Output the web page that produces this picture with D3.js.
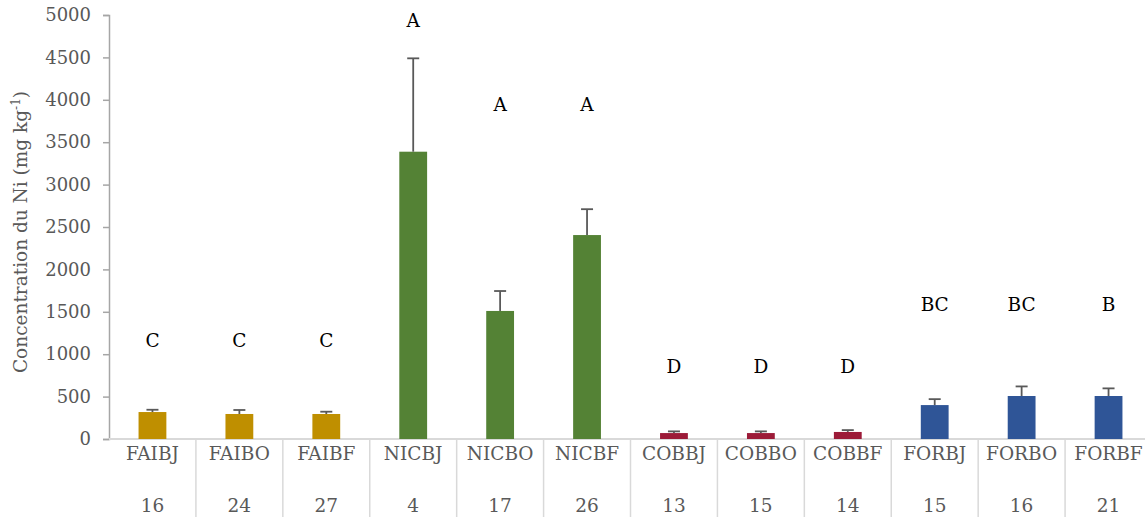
<!DOCTYPE html>
<html>
<head>
<meta charset="utf-8">
<script src="https://cdn.jsdelivr.net/npm/d3@7/dist/d3.min.js"></script>
<style>
  html, body { margin: 0; padding: 0; background: #fff; }
  svg { display: block; }
  text { font-family: "DejaVu Serif", "Liberation Serif", serif; }
</style>
</head>
<body>
<svg id="chart" width="1145" height="517"></svg>
<script>
// ---- data ----
const categories = ["FAIBJ","FAIBO","FAIBF","NICBJ","NICBO","NICBF","COBBJ","COBBO","COBBF","FORBJ","FORBO","FORBF"];
const sampleCounts = ["16","24","27","4","17","26","13","15","14","15","16","21"];
const groups = ["FAI","FAI","FAI","NIC","NIC","NIC","COB","COB","COB","FOR","FOR","FOR"];
const means = [318, 295, 295, 3388, 1510, 2405, 70, 70, 83, 400, 507, 507];
const errors = [27, 47, 27, 1101, 235, 305, 20, 20, 22, 70, 113, 90];
const letters = ["C","C","C","A","A","A","D","D","D","BC","BC","B"];
const letterLevels = [1160, 1160, 1160, 4940, 3940, 3940, 860, 860, 860, 1580, 1580, 1580];
const yTicks = [0,500,1000,1500,2000,2500,3000,3500,4000,4500,5000];
const groupColors = {FAI: "#BF8F00", NIC: "#548235", COB: "#9C1B38", FOR: "#2F5597"};

// ---- layout ----
const svg = d3.select("#chart");
const plotLeft = 109, plotRight = 1152, plotTop = 15, plotBottom = 439;

const x = d3.scaleBand().domain(categories).range([plotLeft, plotRight])
  .paddingInner(0.68).paddingOuter(0.34);
const xb = d3.scaleBand().domain(categories).range([plotLeft, plotRight]);
const y = d3.scaleLinear().domain([0, 5000]).range([plotBottom, plotTop]);

// y axis
const yAxis = svg.append("g").attr("transform", `translate(${plotLeft},0)`)
  .call(d3.axisLeft(y).tickValues(yTicks).tickSize(6).tickPadding(12).tickFormat(d3.format("d")));
yAxis.select(".domain").attr("stroke", "#a6a6a6").attr("stroke-width", 1.5);
yAxis.selectAll(".tick line").attr("stroke", "#a6a6a6").attr("stroke-width", 1.5);
yAxis.selectAll(".tick text").attr("fill", "#595959").attr("font-size", 18)
  .attr("font-family", "DejaVu Serif");

// y title
const title = svg.append("text")
  .attr("transform", `translate(27, 232) rotate(-90)`)
  .attr("text-anchor", "middle").attr("fill", "#595959").attr("font-size", 18.5);
title.append("tspan").text("Concentration du Ni (mg kg");
title.append("tspan").attr("baseline-shift", "super").attr("font-size", 12).text("-1");
title.append("tspan").text(")");

// x axis line
svg.append("line").attr("x1", plotLeft).attr("x2", plotRight)
  .attr("y1", y(0)).attr("y2", y(0)).attr("stroke", "#d9d9d9").attr("stroke-width", 2);

// category separators
const seps = categories.map(c => xb(c)).concat([xb(categories[categories.length-1]) + xb.bandwidth()]);
svg.selectAll("line.sep").data(seps.slice(1)).join("line").attr("class", "sep")
  .attr("x1", d => d).attr("x2", d => d).attr("y1", y(0)).attr("y2", 517)
  .attr("stroke", "#d9d9d9").attr("stroke-width", 1.5);

// category labels
svg.selectAll("text.cat").data(categories).join("text").attr("class", "cat")
  .attr("x", d => xb(d) + xb.bandwidth()/2).attr("y", 460)
  .attr("text-anchor", "middle").attr("fill", "#595959").attr("font-size", 18.5)
  .text(d => d);
svg.selectAll("text.cnt").data(sampleCounts).join("text").attr("class", "cnt")
  .attr("x", (d,i) => xb(categories[i]) + xb.bandwidth()/2).attr("y", 512)
  .attr("text-anchor", "middle").attr("fill", "#595959").attr("font-size", 18.5)
  .text(d => d);

// bars
svg.selectAll("rect.bar").data(categories).join("rect").attr("class", "bar")
  .attr("x", d => x(d)).attr("width", x.bandwidth())
  .attr("y", (d,i) => y(means[i])).attr("height", (d,i) => y(0) - y(means[i]))
  .attr("fill", (d,i) => groupColors[groups[i]]);

// error bars
const eg = svg.append("g").attr("stroke", "#595959").attr("stroke-width", 1.8);
categories.forEach((c, i) => {
  const cx = x(c) + x.bandwidth()/2;
  eg.append("line").attr("x1", cx).attr("x2", cx).attr("y1", y(means[i])).attr("y2", y(means[i] + errors[i]));
  eg.append("line").attr("x1", cx - 6).attr("x2", cx + 6).attr("y1", y(means[i] + errors[i])).attr("y2", y(means[i] + errors[i]));
});

// significance letters
svg.selectAll("text.let").data(letters).join("text").attr("class", "let")
  .attr("x", (d,i) => x(categories[i]) + x.bandwidth()/2)
  .attr("y", (d,i) => y(letterLevels[i])).attr("dy", "0.35em")
  .attr("text-anchor", "middle").attr("fill", "#000").attr("font-size", 18.5)
  .text(d => d);
</script>
</body>
</html>
